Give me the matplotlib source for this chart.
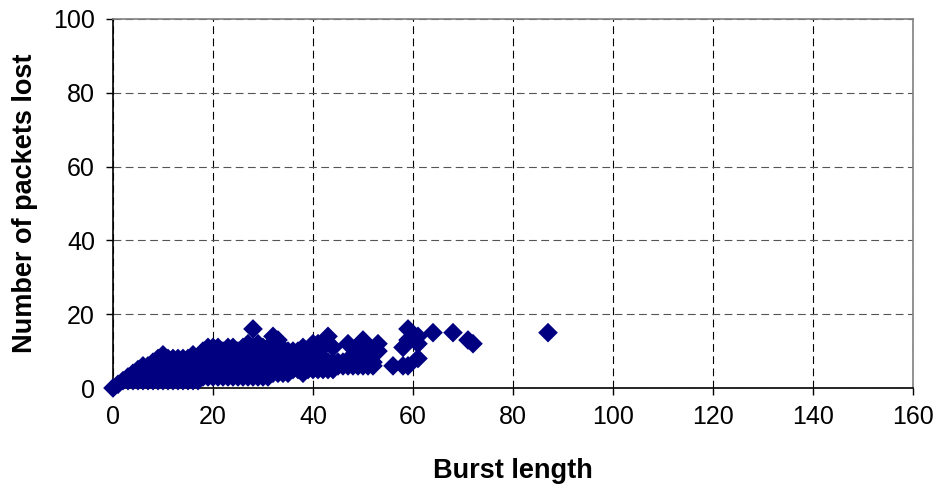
import matplotlib
matplotlib.use("Agg")
import matplotlib.pyplot as plt
import numpy as np

plt.rcParams['font.family'] = ['Liberation Sans', 'DejaVu Sans']

# burst length -> list of packets lost
burst_len = [0, 1, 2, 3, 4, 5, 6, 7, 8, 9,
             10, 11, 12, 13, 14, 15, 16, 17, 18, 19,
             20, 21, 22, 23, 24, 25, 26, 27, 28, 29,
             30, 31, 32, 33, 34, 35, 36, 37, 38, 39,
             40, 41, 42, 43, 44, 45, 46, 47, 48, 49,
             50, 51, 52, 53, 56, 58, 59, 61, 64, 68,
             71, 72, 87]
packets_lost = [
    [0], [1], [2], [2, 3], [2, 3, 4], [2, 3, 4, 5], [2, 3, 4, 5, 6],
    [2, 3, 4, 5, 6], [2, 3, 4, 5, 6, 7], [2, 3, 4, 5, 6, 7, 8],
    [2, 3, 4, 5, 6, 7, 8, 9], [2, 3, 4, 5, 6, 7, 8], [2, 3, 4, 5, 6, 7, 8],
    [2, 3, 4, 5, 6, 7, 8], [2, 3, 4, 5, 6, 7, 8], [2, 3, 4, 5, 6, 7, 8],
    [2, 3, 4, 5, 6, 7, 8, 9], [2, 3, 4, 5, 6, 7, 8],
    [3, 4, 5, 6, 7, 8, 9, 10], [3, 4, 5, 6, 7, 8, 9, 10, 11],
    [3, 4, 5, 6, 7, 8, 9, 10, 11], [3, 4, 5, 6, 7, 8, 9, 10, 11],
    [3, 4, 5, 6, 7, 8, 9, 10], [3, 4, 5, 6, 7, 8, 9, 10, 11],
    [3, 4, 5, 6, 7, 8, 9, 10, 11], [3, 4, 5, 6, 7, 8, 9, 10],
    [3, 4, 5, 6, 7, 8, 9, 10, 11], [3, 4, 5, 6, 7, 8, 9, 10, 11, 12],
    [3, 4, 5, 6, 7, 8, 9, 10, 11, 16], [3, 4, 5, 6, 7, 8, 9, 10, 11, 12],
    [3, 4, 5, 6, 7, 8, 9, 10, 11], [3, 4, 5, 6, 7, 8, 9, 10, 11],
    [4, 5, 6, 7, 8, 9, 10, 11, 12, 14], [4, 5, 6, 7, 8, 9, 10, 11, 12, 13],
    [4, 5, 6, 7, 8, 9, 10], [4, 5, 6, 7, 8, 9, 10],
    [5, 6, 7, 8, 9, 10], [5, 6, 7, 8, 9, 10],
    [4, 5, 6, 7, 8, 9, 10, 11], [5, 6, 7, 8, 9],
    [5, 6, 7, 8, 9, 10, 11, 12], [5, 6, 7, 8, 10, 12],
    [5, 6, 7, 8, 11], [5, 6, 7, 14], [5, 6, 7, 11],
    [6, 7], [6, 7], [6, 7, 12], [6, 7, 9], [6, 7, 11],
    [6, 7, 13], [6, 7, 10], [6, 7], [10, 12], [6], [6, 11],
    [6, 13, 16], [8, 12, 14], [15], [15],
    [13], [12], [15]]

x_ticks = [0, 20, 40, 60, 80, 100, 120, 140, 160]
y_ticks = [0, 20, 40, 60, 80, 100]

xs = []
ys = []
for b, vals in zip(burst_len, packets_lost):
    for v in vals:
        xs.append(b)
        ys.append(v)

fig = plt.figure(figsize=(9.39, 4.86), dpi=100)
ax = fig.add_axes([113/939, 1-388/486, 800/939, 369/486])

ax.scatter(xs, ys, marker='D', s=100, color='#000080', edgecolors='none',
           zorder=3, clip_on=False)

ax.set_xlim(0, 160)
ax.set_ylim(0, 100)
ax.set_xticks(x_ticks)
ax.set_yticks(y_ticks)
ax.tick_params(axis='both', direction='out', length=5, width=1,
               labelsize=18, color='black')
ax.tick_params(axis='x', pad=7)
ax.tick_params(axis='y', pad=8)

ax.grid(True, axis='x', color='black', linestyle=(0, (7, 4)), linewidth=0.8)
ax.grid(True, axis='y', color='#555555', linestyle=(0, (7, 4)), linewidth=0.8)
ax.set_axisbelow(True)

for side in ['left', 'bottom']:
    ax.spines[side].set_color('black')
    ax.spines[side].set_linewidth(1.2)
for side in ['top', 'right']:
    ax.spines[side].set_color('#808080')
    ax.spines[side].set_linewidth(1.2)

ax.set_xlabel('Burst length', fontsize=19.5, fontweight='bold', labelpad=21)
ax.set_ylabel('Number of packets lost', fontsize=19.5, fontweight='bold', labelpad=11)

fig.savefig('out.png', dpi=100)
